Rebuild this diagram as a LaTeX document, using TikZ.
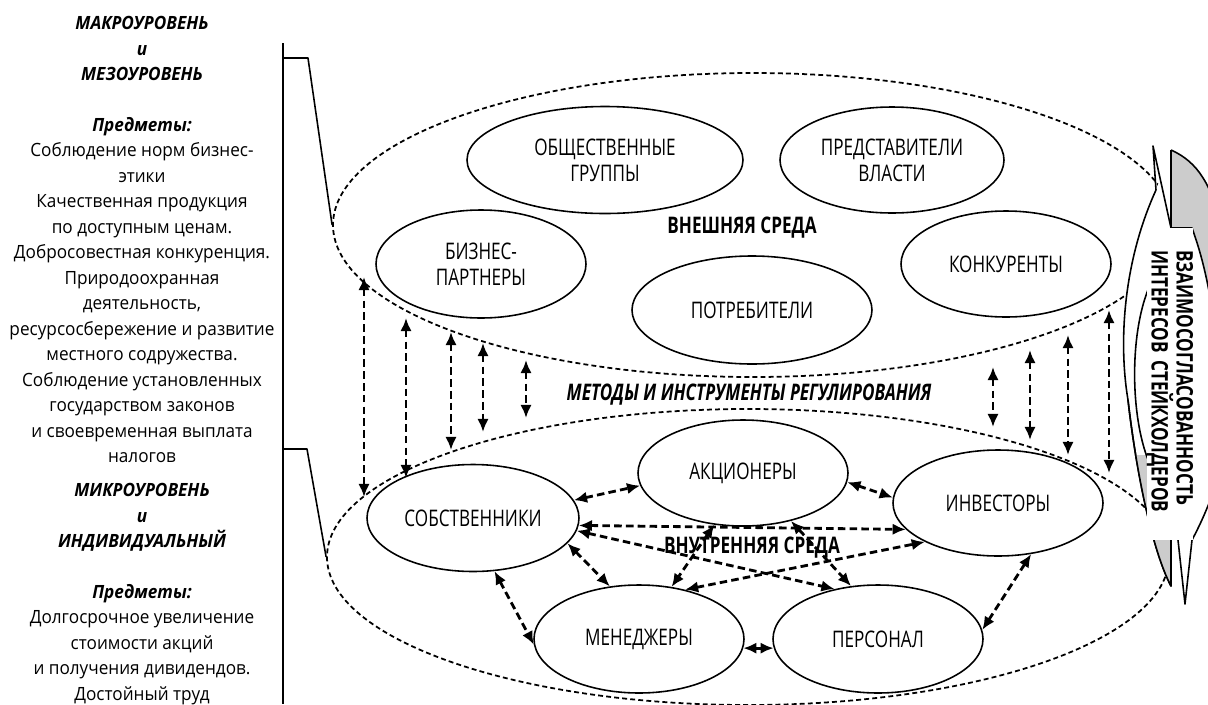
\documentclass[tikz,border=0pt]{standalone}
\usepackage{fontspec}
\setmainfont{Open Sans}
\newfontfamily\sidefont[FakeStretch=0.94]{Open Sans}
\newfontfamily\narrowfont[FakeStretch=0.75]{Open Sans}
\usetikzlibrary{shapes.geometric,arrows.meta}
\definecolor{leafgray}{gray}{0.8}
\newcommand\levelname[1]{{\bfseries\itshape #1}}
\tikzset{
  dims/.style 2 args={minimum width=#1*0.02cm, minimum height=#2*0.02cm},
  actor/.style={ellipse, draw, line width=0.9pt, inner sep=0pt, align=center,
    font=\narrowfont\fontsize{13}{14.8}\selectfont},
  env/.style={ellipse, draw, line width=1pt, dash pattern=on 2.8pt off 1.8pt, inner sep=0pt},
  link/.style={<->, >={Latex[length=7.5pt,width=6.5pt]}, line width=1.6pt, dash pattern=on 4.3pt off 2.4pt},
  caption/.style={inner sep=0pt, font=\narrowfont\bfseries\fontsize{13}{14.2}\selectfont},
  level/.style={align=center, inner sep=0pt, font=\sidefont\fontsize{10.4}{14.5}\selectfont}
}
\begin{document}
\begin{tikzpicture}[x=0.02cm, y=-0.02cm, line join=round]
\useasboundingbox (0,0) rectangle (1208,704);

% left column
\node[level, anchor=north] (macro) at (142,16) {\levelname{МАКРОУРОВЕНЬ}\\ \levelname{и}\\ \levelname{МЕЗОУРОВЕНЬ}\\[14.5pt]
  \levelname{Предметы:}\\ Соблюдение норм бизнес-\\ этики\\ Качественная продукция\\ по доступным ценам.\\
  Добросовестная конкуренция.\\ Природоохранная\\ деятельность,\\ ресурсосбережение и развитие\\
  местного содружества.\\ Соблюдение установленных\\ государством законов\\ и своевременная выплата\\ налогов};
\node[level, anchor=north] (micro) at (142,483) {\levelname{МИКРОУРОВЕНЬ}\\ \levelname{и}\\ \levelname{ИНДИВИДУАЛЬНЫЙ}\\[14.5pt]
  \levelname{Предметы:}\\ Долгосрочное увеличение\\ стоимости акций\\ и получения дивидендов.\\ Достойный труд};

% environments
\node[env, dims={840}{304}] (outer) at (753,225) {};
\node[env, dims={842}{296}] (inner) at (748,557) {};

% bracket
\draw[line width=0.9pt] (283,43) -- (283,704);
\draw[line width=0.9pt] (283,58) -- (308,58) -- (outer.west);
\draw[line width=0.9pt] (283,449) -- (307,449) -- (inner.west);

% external stakeholders
\node[actor, dims={276}{107}] (publics) at (605,160) {ОБЩЕСТВЕННЫЕ\\ГРУППЫ};
\node[actor, dims={224}{106}] (power) at (892,160) {ПРЕДСТАВИТЕЛИ\\ВЛАСТИ};
\node[actor, dims={210}{108}] (partners) at (481,264) {БИЗНЕС-\\ПАРТНЕРЫ};
\node[actor, dims={240}{108}] (consumers) at (752,310) {ПОТРЕБИТЕЛИ};
\node[actor, dims={210}{106}] (rivals) at (1006,264) {КОНКУРЕНТЫ};
\node[caption] (outerlabel) at (742,228) {ВНЕШНЯЯ СРЕДА};

% internal stakeholders
\node[actor, dims={212}{107}] (owners) at (473,518) {СОБСТВЕННИКИ};
\node[actor, dims={210}{106}] (holders) at (743,473) {АКЦИОНЕРЫ};
\node[actor, dims={210}{106}] (investors) at (998,503) {ИНВЕСТОРЫ};
\node[actor, dims={210}{108}] (managers) at (639,639) {МЕНЕДЖЕРЫ};
\node[actor, dims={210}{108}] (staff) at (878,639) {ПЕРСОНАЛ};

\node[caption, font=\narrowfont\bfseries\itshape\fontsize{13}{14}\selectfont] (methods) at (749,395) {МЕТОДЫ И ИНСТРУМЕНТЫ РЕГУЛИРОВАНИЯ};

% links between levels
\foreach \n/\x/\a/\b in {1/364/277/497, 2/406/318/478, 3/451/332/450, 4/483/343/432, 5/526/360/418,
    6/993/367/427, 7/1030/350/440, 8/1068/335/455, 9/1109/310/473}
{
  \coordinate (top\n) at (\x,\a);
  \coordinate (bot\n) at (\x,\b);
  \draw[link] (top\n) -- (bot\n);
}

% links inside
\draw[link] (owners.10) -- (holders.187);
\draw[link] (holders.-5) -- (investors.177);
\draw[link] (owners.-4) -- (investors.196);
\draw[link] (owners.-7) -- (staff.131);
\draw[link] (holders.241) -- (managers.58);
\draw[link] (holders.-45) -- (staff.117);
\draw[link] (managers.47) -- (investors.208);
\draw[link] (owners.-15) -- (managers.119);
\draw[link] (owners.-68) -- (managers.183);
\draw[link] (managers.-5) -- (staff.185);
\draw[link] (investors.-57) -- (staff.5);

\node[caption] (innerlabel) at (752,548) {ВНУТРЕННЯЯ СРЕДА};

% scroll on the right
\fill[leafgray] (1171,150) .. controls (1198,162) and (1212,185) .. (1222,230) -- (1222,480) -- (1171,480) -- cycle;
\draw[line width=0.9pt] (1171,150) .. controls (1198,162) and (1212,185) .. (1222,230);
\filldraw[fill=white, line width=0.9pt] (1156,190) .. controls (1124,260) and (1118,340) .. (1128,400)
  .. controls (1136,470) and (1152,550) .. (1171,586) -- (1171,150);
\begin{scope}
  \clip (1100,455) rectangle (1171,600);
  \fill[leafgray] (1156,190) .. controls (1124,260) and (1118,340) .. (1128,400)
    .. controls (1136,470) and (1152,550) .. (1171,586) -- (1171,150) -- cycle;
\end{scope}
\draw[line width=0.9pt] (1128,400) .. controls (1136,470) and (1152,550) .. (1171,586) -- (1171,540);
\filldraw[fill=white, line width=0.9pt] (1171,228) -- (1192,228) .. controls (1200,250) and (1207,275) .. (1214,320)
  -- (1220,470) .. controls (1212,500) and (1200,525) .. (1192,540) -- (1185,604) -- (1178,540)
  -- (1147,457) .. controls (1130,410) and (1130,330) .. (1150,285) -- cycle;
\draw[line width=0.9pt] (1156,190) -- (1153,146) -- (1171,228);
\node[fill=white, inner xsep=22*0.02cm, inner ysep=0pt, rotate=-90, text width=268*0.02cm,
  minimum height=46*0.02cm, align=left,
  font=\narrowfont\bfseries\fontsize{13}{14.2}\selectfont] (agreement) at (1170,384)
  {ВЗАИМОСОГЛАСОВАННОСТЬ\\ИНТЕРЕСОВ СТЕЙКХОЛДЕРОВ};
\end{tikzpicture}
\end{document}
